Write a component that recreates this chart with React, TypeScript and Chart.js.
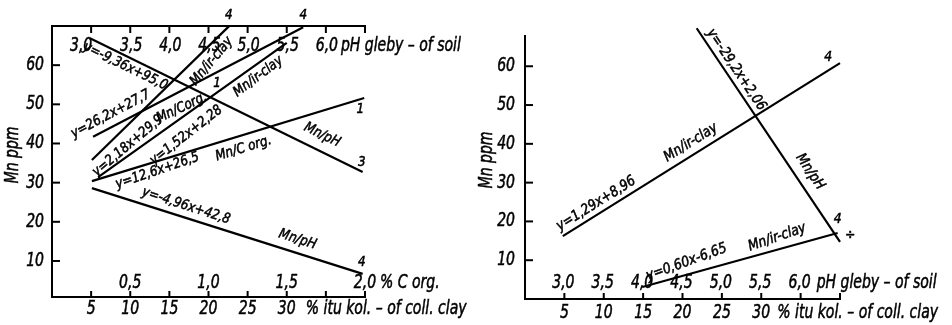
import React, { useEffect, useRef } from 'react';
import { Chart, registerables } from 'chart.js';

Chart.register(...registerables);

type Pt = { x: number; y: number };
type Note = { text: string; x: number; y: number; angle: number; dy?: number };

// x values are expressed on the shared "% coll. clay" scale (pH = 2.5 + x/10, C org = x/20)
// ---- left panel series ----
const leftMnPh3: Pt[] = [{ x: 4.85, y: 66.9 }, { x: 39.7, y: 32.7 }];
const leftMnClayA: Pt[] = [{ x: 5.1, y: 35.8 }, { x: 22.6, y: 69.9 }];
const leftMnCorgB: Pt[] = [{ x: 5.25, y: 41.7 }, { x: 32.1, y: 69.7 }];
const leftMnClayC: Pt[] = [{ x: 5.9, y: 31.4 }, { x: 30.0, y: 65.7 }];
const leftMnCorg1: Pt[] = [{ x: 5.1, y: 30.4 }, { x: 39.9, y: 51.6 }];
const leftMnPh4: Pt[] = [{ x: 5.1, y: 28.6 }, { x: 39.7, y: 6.7 }];

// ---- right panel series ----
const rightMnClayUpper: Pt[] = [{ x: 4.8, y: 16.2 }, { x: 40.0, y: 60.8 }];
const rightMnPh: Pt[] = [{ x: 21.8, y: 69.8 }, { x: 40.0, y: 14.7 }];
const rightMnClayLower: Pt[] = [{ x: 14.9, y: 3.1 }, { x: 39.7, y: 17.0 }];

// ---- ticks ----
const yTicks = [10, 20, 30, 40, 50, 60];
const yTickLabels = ['10', '20', '30', '40', '50', '60'];
const clayTicks = [5, 10, 15, 20, 25, 30, 35, 40];
const clayLabelValues = [5, 10, 15, 20, 25, 30];
const clayLabels = ['5', '10', '15', '20', '25', '30'];
const phValues = [3.0, 3.5, 4.0, 4.5, 5.0, 5.5, 6.0];
const phLabels = ['3,0', '3,5', '4,0', '4,5', '5,0', '5,5', '6,0'];
const corgValues = [0.5, 1.0, 1.5, 2.0];
const corgLabels = ['0,5', '1,0', '1,5', '2,0'];

const yTitle = 'Mn ppm';
const phSuffix = 'pH gleby – of soil';
const claySuffix = '% itu kol. – of coll. clay';
const corgSuffix = '% C org.';

const leftNotes: Note[] = [
  { text: 'y=-9,36x+95,0', x: 9.6, y: 60.6, angle: 26, dy: 4 },
  { text: 'Mn/pH', x: 34.4, y: 41.7, angle: 26, dy: -2 },
  { text: '3', x: 39.6, y: 35.3, angle: 0 },
  { text: 'y=26,2x+27,7', x: 7.67, y: 46.8, angle: -28, dy: -3 },
  { text: 'y=2,18x+29,9', x: 9.7, y: 39.4, angle: -40 },
  { text: 'Mn/Corg.', x: 16.6, y: 49.1, angle: -25 },
  { text: 'y=1,52x+2,28', x: 17.0, y: 42.5, angle: -38, dy: 2 },
  { text: 'Mn/ir-clay', x: 20.2, y: 61.3, angle: -50, dy: 2 },
  { text: '1', x: 21.1, y: 55.4, angle: 0 },
  { text: 'Mn/ir-clay', x: 26.2, y: 57.5, angle: -37, dy: 2 },
  { text: '4', x: 22.6, y: 72.8, angle: 0 },
  { text: '4', x: 32.1, y: 72.8, angle: 0 },
  { text: 'y=12,6x+26,5', x: 13.4, y: 33.5, angle: -19, dy: 2 },
  { text: 'Mn/C org.', x: 24.4, y: 39.2, angle: -17, dy: 2 },
  { text: '1', x: 39.4, y: 48.6, angle: 0 },
  { text: 'y=-4,96x+42,8', x: 17.0, y: 23.3, angle: 18, dy: -3 },
  { text: 'Mn/pH', x: 31.3, y: 15.0, angle: 18, dy: -2 },
  { text: '4', x: 39.6, y: 9.7, angle: 0 },
];

const rightNotes: Note[] = [
  { text: 'y=-29,2x+2,06', x: 26.4, y: 58.5, angle: 56, dy: -4 },
  { text: 'Mn/pH', x: 36.0, y: 32.5, angle: 56, dy: -2 },
  { text: 'Mn/ir-clay', x: 21.2, y: 39.9, angle: -32, dy: -2 },
  { text: 'y=1,29x+8,96', x: 9.3, y: 23.7, angle: -32, dy: -4 },
  { text: '4', x: 38.5, y: 62.4, angle: 0 },
  { text: 'y=0,60x-6,65', x: 20.6, y: 9.0, angle: -20, dy: -2 },
  { text: 'Mn/ir-clay', x: 32.1, y: 15.4, angle: -19, dy: -2 },
  { text: '4', x: 39.7, y: 20.6, angle: 0 },
  { text: '÷', x: 41.3, y: 16.5, angle: 0 },
];

const FONT = "'DejaVu Sans Condensed', 'DejaVu Sans', sans-serif";

function txt(ctx: CanvasRenderingContext2D, s: string, x: number, y: number, size: number,
  align: CanvasTextAlign = 'center', angle = 0, sx = 0.82, dy = 0) {
  ctx.save();
  ctx.translate(x, y);
  ctx.rotate((angle * Math.PI) / 180);
  ctx.translate(0, dy);
  ctx.scale(sx, 1);
  ctx.font = `italic ${size}px ${FONT}`;
  ctx.textAlign = align;
  ctx.textBaseline = 'middle';
  ctx.fillStyle = '#000';
  ctx.strokeStyle = '#000';
  ctx.lineWidth = 0.5;
  ctx.fillText(s, 0, 0);
  ctx.strokeText(s, 0, 0);
  ctx.restore();
}

function seg(ctx: CanvasRenderingContext2D, x1: number, y1: number, x2: number, y2: number) {
  ctx.beginPath();
  ctx.moveTo(x1, y1);
  ctx.lineTo(x2, y2);
  ctx.stroke();
}

type PanelCfg = {
  left: boolean;
  notes: Note[];
  noteSize: number;
  titleX: number;
  titleY: number;
  yLabelGap: number;
};

const AX = 19;

function decorPlugin(cfg: PanelCfg) {
  return {
    id: 'decor',
    afterDraw(chart: any) {
      const ctx: CanvasRenderingContext2D = chart.ctx;
      const xs = chart.scales.x;
      const ys = chart.scales.y;
      const a = chart.chartArea;
      const px = (v: number) => xs.getPixelForValue(v);
      const py = (v: number) => ys.getPixelForValue(v);
      ctx.save();
      ctx.strokeStyle = '#000';
      ctx.lineWidth = 2;
      // y axis
      seg(ctx, a.left, a.bottom + 1, a.left, a.top - 1);
      yTicks.forEach((t, i) => {
        ctx.lineWidth = 2;
        seg(ctx, a.left, py(t), a.left + 8, py(t));
        txt(ctx, yTickLabels[i], a.left - cfg.yLabelGap, py(t), AX, 'right');
      });
      ctx.lineWidth = 2;
      // bottom axis
      seg(ctx, a.left - 1, a.bottom, a.right + 1, a.bottom);
      clayTicks.forEach((t) => seg(ctx, px(t), a.bottom, px(t), a.bottom - 6));
      const clayY = a.bottom + (cfg.left ? 12 : 14);
      clayLabelValues.forEach((v, i) => txt(ctx, clayLabels[i], px(v), clayY, AX));
      txt(ctx, claySuffix, px(30) + (cfg.left ? 19 : 16), clayY, AX, 'left');

      if (cfg.left) {
        ctx.lineWidth = 2;
        // top pH axis
        seg(ctx, a.left - 1, a.top, a.right + 1, a.top);
        clayTicks.forEach((t) => seg(ctx, px(t), a.top, px(t), a.top + 7));
        const phY = a.top + 20;
        phValues.forEach((v, i) => {
          const shift = i === 0 ? -10 : 1;
          txt(ctx, phLabels[i], px((v - 2.5) * 10) + shift, phY, AX);
        });
        txt(ctx, phSuffix, px(35) + 15, phY, AX, 'left');
        // C org labels inside above bottom axis
        const cY = a.bottom - 14;
        corgValues.forEach((v, i) => txt(ctx, corgLabels[i], px(v * 20), cY, AX));
        txt(ctx, corgSuffix, px(40) + 15, cY, AX, 'left');
      } else {
        const phY = a.bottom - 16;
        phValues.forEach((v, i) => txt(ctx, phLabels[i], px((v - 2.5) * 10) - 1, phY, AX));
        txt(ctx, phSuffix, px(35) + 16, phY, AX, 'left');
      }
      // y title
      txt(ctx, yTitle, cfg.titleX, cfg.titleY, AX, 'center', -90);
      // in-plot notes
      cfg.notes.forEach((n) =>
        txt(ctx, n.text, px(n.x), py(n.y), cfg.noteSize, 'center', n.angle, 0.95, n.dy ?? 0));
      ctx.restore();
    },
  };
}

function ds(data: Pt[]) {
  return {
    data,
    borderColor: '#000',
    borderWidth: 2.2,
    pointRadius: 0,
    fill: false,
    tension: 0,
    clip: false as any,
  };
}

function makeChart(canvas: HTMLCanvasElement, series: Pt[][], yMin: number, yMax: number,
  padding: { left: number; right: number; top: number; bottom: number }, cfg: PanelCfg) {
  return new Chart(canvas, {
    type: 'line',
    data: { datasets: series.map(ds) as any },
    options: {
      responsive: false,
      animation: false,
      events: [],
      layout: { padding },
      plugins: { legend: { display: false }, tooltip: { enabled: false } },
      scales: {
        x: { type: 'linear', min: 0, max: 40, display: false },
        y: { type: 'linear', min: yMin, max: yMax, display: false },
      },
    },
    plugins: [decorPlugin(cfg)],
  });
}

export default function App() {
  const leftRef = useRef<HTMLCanvasElement>(null);
  const rightRef = useRef<HTMLCanvasElement>(null);

  useEffect(() => {
    const c1 = makeChart(
      leftRef.current!,
      [leftMnPh3, leftMnClayA, leftMnCorgB, leftMnClayC, leftMnCorg1, leftMnPh4],
      0.8, 70,
      { left: 52, right: 111, top: 26, bottom: 28 },
      { left: true, notes: leftNotes, noteSize: 14, titleX: 13, titleY: 155, yLabelGap: 8 },
    );
    const c2 = makeChart(
      rightRef.current!,
      [rightMnClayUpper, rightMnPh, rightMnClayLower],
      0, 67.8,
      { left: 49, right: 112, top: 36, bottom: 26 },
      { left: false, notes: rightNotes, noteSize: 14.5, titleX: 11, titleY: 160, yLabelGap: 10 },
    );
    return () => {
      c1.destroy();
      c2.destroy();
    };
  }, []);

  return (
    <div style={{ position: 'fixed', left: 0, top: 0, width: 952, height: 325, background: '#fff' }}>
      <canvas ref={leftRef} width={476} height={325}
        style={{ position: 'absolute', left: 0, top: 0, width: 476, height: 325 }} />
      <canvas ref={rightRef} width={476} height={325}
        style={{ position: 'absolute', left: 476, top: 0, width: 476, height: 325 }} />
    </div>
  );
}
